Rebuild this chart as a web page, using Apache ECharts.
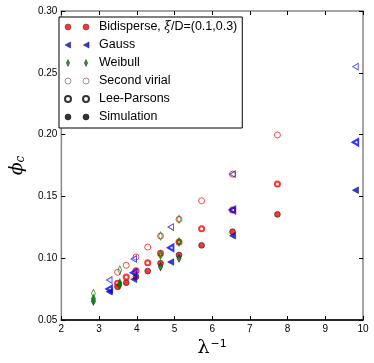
<!DOCTYPE html>
<html>
<head>
<meta charset="utf-8">
<script src="https://cdn.jsdelivr.net/npm/echarts@6/dist/echarts.min.js"></script>
<style>html,body{margin:0;padding:0;background:#fff;}#c{width:374px;height:363px;}</style>
</head>
<body>
<div id="c"></div>
<script>
// ---- data ----
const xBidisperse = [3.49, 3.72, 3.98, 4.29, 4.63, 5.12, 5.72, 6.54, 7.73];
const bidSecondVirial = [0.0886, 0.0943, 0.101, 0.109, 0.118, 0.1315, 0.1465, 0.168, 0.1997];
const bidLeeParsons = [0.0797, 0.0848, 0.0899, 0.0964, 0.104, 0.1131, 0.1239, 0.139, 0.160];
const bidSimulation = [0.0769, 0.0802, 0.085, 0.0896, 0.0959, 0.1026, 0.1104, 0.1214, 0.1355];

const xGauss = [3.27, 3.92, 4.90, 6.54, 9.80];
const gaussSecondVirial = [0.0824, 0.0994, 0.1252, 0.168, 0.255];
const gaussLeeParsons = [0.0751, 0.0883, 0.1085, 0.139, 0.1938];
const gaussSimulation = [0.0729, 0.0829, 0.0969, 0.1182, 0.155];

const xWeibull = [2.85, 3.55, 4.63, 5.12];
const weibSecondVirial = [0.0716, 0.0905, 0.118, 0.1315];
const weibLeeParsons = [0.0672, 0.080, 0.1026, 0.1131];
const weibSimulation = [0.0652, 0.0783, 0.0931, 0.0999];

const legendNames = ['Bidisperse, ξ/D=(0.1,0.3)', 'Gauss', 'Weibull', 'Second virial', 'Lee-Parsons', 'Simulation'];
const xTicks = [2, 3, 4, 5, 6, 7, 8, 9, 10];
const yTicks = [0.05, 0.10, 0.15, 0.20, 0.25, 0.30];

// ---- style ----
const RED = '#ff0000', BLUE = '#0000ff', GREEN = '#008000';
const TRI = 'path://M0,5L8.66,0L8.66,10Z';
const DIA = 'path://M2,0L4,4.5L2,9L0,4.5Z';
const FONT = 'Liberation Sans';

function pairs(xs, ys) { return xs.map((x, i) => [x, ys[i]]); }

const SIZES = {
  circ: { sv: 6, lp: 5, sim: 5.8 },
  tri: { sv: [5.5, 6.5], lp: [5.5, 6.5], sim: [6, 6.5] },
  dia: { sv: [4, 8], lp: [3.2, 6.5], sim: [4.2, 8] }
};

function ser(xs, ys, kind, shape, color) {
  let symbol = 'circle';
  if (shape === 'tri') symbol = TRI;
  if (shape === 'dia') symbol = DIA;
  const size = SIZES[shape][kind];
  let itemStyle;
  if (kind === 'sv') itemStyle = { color: 'rgba(255,255,255,0)', borderColor: color, borderWidth: 1, opacity: 0.7 };
  else if (kind === 'lp') itemStyle = { color: 'rgba(255,255,255,0)', borderColor: color, borderWidth: 2 };
  else itemStyle = { color: color, borderColor: '#222', borderWidth: 0.8 };
  return {
    type: 'scatter', xAxisIndex: 0, yAxisIndex: 0,
    symbol: symbol, symbolSize: size,
    itemStyle: itemStyle,
    emphasis: { disabled: true },
    data: pairs(xs, ys)
  };
}

const circ2 = 'path://M0,3a3,3 0 1,0 6,0a3,3 0 1,0 -6,0M18,3a3,3 0 1,0 6,0a3,3 0 1,0 -6,0';
const tri2 = 'path://M0,3L5.5,0L5.5,6ZM18,3L23.5,0L23.5,6Z';
const dia2 = 'path://M3,0L4.6,3.5L3,7L1.4,3.5ZM21,0L22.6,3.5L21,7L19.4,3.5Z';

const legendData = [
  { name: legendNames[0], icon: circ2, itemStyle: { color: RED, borderColor: '#333', borderWidth: 0.6 } },
  { name: legendNames[1], icon: tri2, itemStyle: { color: BLUE, borderColor: '#111', borderWidth: 0.6 } },
  { name: legendNames[2], icon: dia2, itemStyle: { color: GREEN, borderColor: '#111', borderWidth: 0.6 } },
  { name: legendNames[3], icon: circ2, itemStyle: { color: '#fff', borderColor: '#555', borderWidth: 0.8 } },
  { name: legendNames[4], icon: circ2, itemStyle: { color: '#fff', borderColor: '#000', borderWidth: 2 } },
  { name: legendNames[5], icon: circ2, itemStyle: { color: '#000', borderColor: '#000', borderWidth: 0.6 } }
];

const series = [
  ser(xBidisperse, bidSimulation, 'sim', 'circ', RED),
  ser(xBidisperse, bidLeeParsons, 'lp', 'circ', RED),
  ser(xBidisperse, bidSecondVirial, 'sv', 'circ', RED),
  ser(xGauss, gaussSimulation, 'sim', 'tri', BLUE),
  ser(xGauss, gaussLeeParsons, 'lp', 'tri', BLUE),
  ser(xGauss, gaussSecondVirial, 'sv', 'tri', BLUE),
  ser(xWeibull, weibSimulation, 'sim', 'dia', GREEN),
  ser(xWeibull, weibLeeParsons, 'lp', 'dia', GREEN),
  ser(xWeibull, weibSecondVirial, 'sv', 'dia', GREEN)
];
legendNames.forEach(n => series.push({ type: 'scatter', name: n, data: [], xAxisIndex: 0, yAxisIndex: 0 }));

const tickStyle = { show: true, inside: true, length: 4, lineStyle: { color: '#000', width: 1 } };

const option = {
  animation: false,
  backgroundColor: '#fff',
  grid: { left: 53, right: 11, top: 11, bottom: 43, show: true, borderColor: '#888', borderWidth: 1.5, backgroundColor: 'transparent' },
  legend: {
    orient: 'vertical', left: 59, top: 17,
    padding: [3, 5, 4, 5],
    itemWidth: 24, itemHeight: 7, itemGap: 4,
    borderColor: '#000', borderWidth: 1, borderRadius: 0, backgroundColor: '#fff',
    selectedMode: false,
    data: legendData,
    formatter: function (n) {
      if (n === legendNames[0]) return '{n|Bidisperse, }{i|ξ}{n|/D=(0.1,0.3)}';
      return '{n|' + n + '}';
    },
    textStyle: {
      fontFamily: FONT, fontSize: 12.5, color: '#000', lineHeight: 14, padding: [0, 0, 0, 5],
      rich: {
        n: { fontFamily: FONT, fontSize: 12.5, color: '#000', lineHeight: 14 },
        i: { fontFamily: 'DejaVu Serif', fontStyle: 'italic', fontSize: 12, color: '#000', lineHeight: 14 }
      }
    }
  },
  xAxis: [
    {
      type: 'value', position: 'bottom', min: xTicks[0], max: xTicks[xTicks.length - 1], interval: 1,
      axisLine: { show: true, lineStyle: { color: '#000', width: 1.5 } },
      axisTick: tickStyle, splitLine: { show: false },
      axisLabel: { fontFamily: FONT, fontSize: 10, color: '#000', margin: 4 },
      name: '{a|λ}{b|−1}', nameLocation: 'middle', nameGap: 14,
      nameTextStyle: {
        rich: {
          a: { fontFamily: 'DejaVu Serif', fontSize: 19, color: '#000' },
          b: { fontFamily: 'DejaVu Sans', fontSize: 11, color: '#000', verticalAlign: 'top', padding: [0, 0, 0, 1] }
        }
      }
    },
    {
      type: 'value', position: 'top', min: xTicks[0], max: xTicks[xTicks.length - 1], interval: 1,
      axisLine: { show: false }, axisTick: tickStyle, axisLabel: { show: false }, splitLine: { show: false }
    }
  ],
  yAxis: [
    {
      type: 'value', position: 'left', min: yTicks[0], max: yTicks[yTicks.length - 1], interval: 0.05,
      axisLine: { show: false },
      axisTick: tickStyle, splitLine: { show: false },
      axisLabel: { fontFamily: FONT, fontSize: 10, color: '#000', margin: 4, formatter: v => v.toFixed(2) },
      name: '{a|ϕ}{b|c}', nameLocation: 'middle', nameGap: 24, nameRotate: 90,
      nameTextStyle: {
        rich: {
          a: { fontFamily: 'DejaVu Serif', fontStyle: 'italic', fontSize: 19, color: '#000' },
          b: { fontFamily: 'DejaVu Serif', fontStyle: 'italic', fontSize: 12, color: '#000', verticalAlign: 'bottom' }
        }
      }
    },
    {
      type: 'value', position: 'right', min: yTicks[0], max: yTicks[yTicks.length - 1], interval: 0.05,
      axisLine: { show: false }, axisTick: tickStyle, axisLabel: { show: false }, splitLine: { show: false }
    }
  ],
  series: series
};

const chart = echarts.init(document.getElementById('c'), null, { renderer: 'canvas' });
chart.setOption(option);
</script>
</body>
</html>
